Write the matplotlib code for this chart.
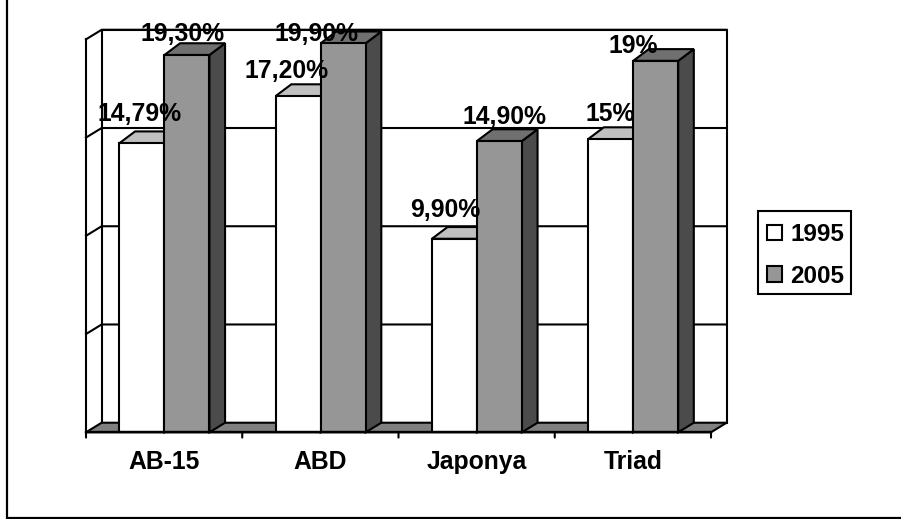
"""3D-look clustered bars, 1995 vs 2005, drawn on a plain 2D axes."""
import matplotlib

matplotlib.use("Agg")
import matplotlib.pyplot as plt
from matplotlib.lines import Line2D
from matplotlib.patches import Patch, Polygon, Rectangle

plt.rcParams["font.family"] = ["Liberation Sans", "DejaVu Sans"]

categories = ["AB-15", "ABD", "Japonya", "Triad"]
series_names = ["1995", "2005"]
values_1995 = [14.79, 17.20, 9.90, 15.0]
values_2005 = [19.30, 19.90, 14.90, 19.0]
labels_1995 = ["14,79%", "17,20%", "9,90%", "15%"]
labels_2005 = ["19,30%", "19,90%", "14,90%", "19%"]
y_ticks = [0, 5, 10, 15, 20]

W, H = 901, 519
# label nudges from the bar's centre top, in pixels (placed by hand in the original)
NUDGE_1995 = [(-2.5, 22), (-12, 18), (-9, 22), (0, 18)]
NUDGE_2005 = [(-4, 14), (-27, 2), (5, 17), (-22, 8)]

DX, DY = 0.1, 0.49  # depth of the 3D box in data units
BAR_DY_TOP = 0.6  # bar tops recede a bit more than the floor does
GRID_SCALE = 1.005  # walls run slightly taller than the bar scale
BAR_W = 0.288
BAR_START = 0.214
LW = 1.5
FS = 17.8

FRONT = {"1995": "white", "2005": "#969696"}
TOP = {"1995": "#c0c0c0", "2005": "#707070"}
SIDE = {"1995": "#808080", "2005": "#4b4b4b"}


def poly(ax, pts, color, z):
    ax.add_patch(Polygon(pts, closed=True, fc=color, ec="black", lw=LW, zorder=z,
                         joinstyle="miter", clip_on=False))


def draw_bar(ax, x0, val, name, z):
    x1 = x0 + BAR_W
    poly(ax, [(x1, 0), (x1 + DX, DY), (x1 + DX, val + BAR_DY_TOP), (x1, val)], SIDE[name], z)
    poly(ax, [(x0, val), (x0 + DX, val + BAR_DY_TOP), (x1 + DX, val + BAR_DY_TOP), (x1, val)], TOP[name], z)
    ax.add_patch(Rectangle((x0, 0), BAR_W, val, fc=FRONT[name], ec="black", lw=LW,
                           zorder=z + 0.1, clip_on=False))


fig = plt.figure(figsize=(W / 100, H / 100), dpi=100)
# only the left and bottom edges of the outer frame are inside the crop
fig.add_artist(Line2D([7 / W, 7 / W, 1], [1, 1.5 / H, 1.5 / H], transform=fig.transFigure,
                      color="black", lw=1.6, solid_joinstyle="miter"))

left, right, base = 86, 711, 432.3
scale = 19.55  # px per percentage point
ax = fig.add_axes([left / W, 1 - base / H, (right - left) / W, 20 * scale / H])
ax.set_xlim(0, 4)
ax.set_ylim(0, 20)
ax.axis("off")

n = len(categories)
wall_top = 20 * GRID_SCALE + DY
# walls
ax.plot([DX, DX, n + DX, n + DX], [DY, wall_top, wall_top, DY], color="black", lw=LW, clip_on=False, zorder=1)
ax.plot([0, 0], [0, wall_top - DY], color="black", lw=LW, clip_on=False, zorder=1)
for t in y_ticks[1:]:
    y = t * GRID_SCALE
    ax.plot([0, DX, n + DX], [y, y + DY, y + DY], color="black", lw=LW, clip_on=False, zorder=1)
# floor
poly(ax, [(0, 0), (DX, DY), (n + DX, DY), (n, 0)], "#808080", 2)

for i in range(n):
    xa = i + BAR_START
    xb = xa + BAR_W
    draw_bar(ax, xa, values_1995[i], "1995", 3 + i)
    draw_bar(ax, xb, values_2005[i], "2005", 3.3 + i)

ax.plot([0, n], [0, 0], color="black", lw=LW + 0.2, clip_on=False, zorder=9)
for i in range(n + 1):
    ax.annotate("", xy=(i, 0), xytext=(0, -3.8), textcoords="offset points",
                arrowprops=dict(arrowstyle="-", lw=LW, color="black", shrinkA=0, shrinkB=0),
                annotation_clip=False)
for i, cat in enumerate(categories):
    ax.annotate(cat, xy=(i + 0.5, 0), xytext=(0, -37 * 0.72), textcoords="offset points",
                ha="center", va="baseline", fontsize=FS, fontweight="bold", annotation_clip=False)

for vals, labs, nudge, off in [(values_1995, labels_1995, NUDGE_1995, 0),
                               (values_2005, labels_2005, NUDGE_2005, BAR_W)]:
    for i, v in enumerate(vals):
        cx = i + BAR_START + off + BAR_W / 2
        ax.annotate(labs[i], xy=(cx, v),
                    xytext=(nudge[i][0] * 0.72, nudge[i][1] * 0.72), textcoords="offset points",
                    ha="center", va="baseline", fontsize=FS, fontweight="bold",
                    annotation_clip=False, zorder=20)

# legend box is drawn apart so its padding can stay tighter on the right
fig.add_artist(Rectangle((757.7 / W, 1 - 294 / H), 93.3 / W, 83 / H, transform=fig.transFigure,
                         fc="white", ec="black", lw=LW))
handles = [Patch(fc=FRONT[s], ec="black", lw=LW, label=s) for s in series_names]
leg = fig.legend(handles=handles, loc="center left", bbox_to_anchor=(767 / W, 1 - 255.5 / H),
                 prop=dict(size=FS - 0.3, weight="bold"), frameon=False,
                 handlelength=0.62, handleheight=0.62, handletextpad=0.34,
                 labelspacing=0.77, borderpad=0, borderaxespad=0)
leg.set_zorder(5)

fig.savefig("out.png", dpi=100)
